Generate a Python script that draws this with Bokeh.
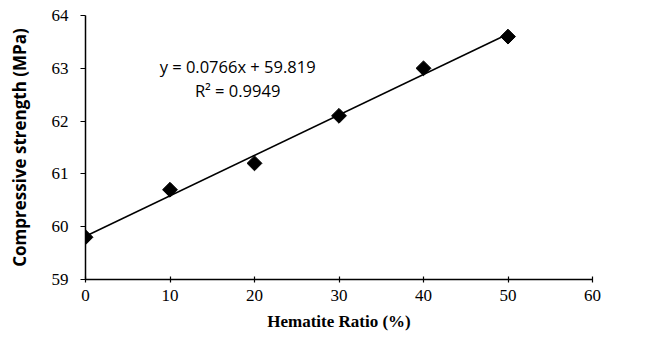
import math
from bokeh.plotting import figure
from bokeh.models import Range1d, Label, FixedTicker
from bokeh.embed import file_html
from bokeh.resources import INLINE

hematite_ratio = [0, 10, 20, 30, 40, 50]
strength = [59.8, 60.7, 61.2, 62.1, 63.0, 63.6]
slope = 0.0766
intercept = 59.819
x_ticks = [0, 10, 20, 30, 40, 50, 60]
y_ticks = [59, 60, 61, 62, 63, 64]

p = figure(width=630, height=333, output_backend="svg", toolbar_location=None,
           x_range=Range1d(0, 60), y_range=Range1d(59, 64),
           min_border_left=85, min_border_top=15, min_border_bottom=54, min_border_right=38)
p.outline_line_color = None
p.grid.visible = False
p.background_fill_color = "white"

fit_x = [hematite_ratio[0], hematite_ratio[-1]]
fit_y = [slope * v + intercept for v in fit_x]
p.line(fit_x, fit_y, line_color="black", line_width=1.5)
p.scatter(hematite_ratio, strength, marker="square", size=10.5, angle=math.pi / 4,
          color="black")

p.xaxis.ticker = FixedTicker(ticks=x_ticks)
p.yaxis.ticker = FixedTicker(ticks=y_ticks)
for ax in (p.xaxis[0], p.yaxis[0]):
    ax.axis_line_color = "black"
    ax.axis_line_width = 1.5
    ax.major_tick_line_color = "black"
    ax.major_tick_line_width = 1.2
    ax.minor_tick_line_color = None
    ax.major_label_text_font = "Liberation Serif"
    ax.major_label_text_font_size = "17px"
    ax.major_label_text_color = "black"
    ax.axis_label_text_color = "black"
    ax.axis_label_text_font_style = "bold"

p.xaxis.major_tick_in = 3
p.xaxis.major_tick_out = 3
p.xaxis.major_label_standoff = 7
p.yaxis.major_tick_in = 0
p.yaxis.major_tick_out = 5
p.yaxis.major_label_standoff = 12

p.xaxis.axis_label = "Hematite Ratio (%)"
p.xaxis.axis_label_text_font = "Liberation Serif"
p.xaxis.axis_label_text_font_size = "17px"
p.xaxis.axis_label_standoff = 8

p.yaxis.axis_label = "Compressive strength (MPa)"
p.yaxis.axis_label_text_font = "Open Sans"
p.yaxis.axis_label_text_font_size = "17px"
p.yaxis.axis_label_standoff = 18

p.add_layout(Label(x=18.0, y=63.03, text="y = 0.0766x + 59.819", text_align="center",
                   text_baseline="middle", text_font="Open Sans", text_font_size="16.5px",
                   text_color="black"))
p.add_layout(Label(x=18.0, y=62.58, text="R² = 0.9949", text_align="center",
                   text_baseline="middle", text_font="Open Sans", text_font_size="16.5px",
                   text_color="black"))

open("out.html", "w").write(file_html(p, INLINE))
